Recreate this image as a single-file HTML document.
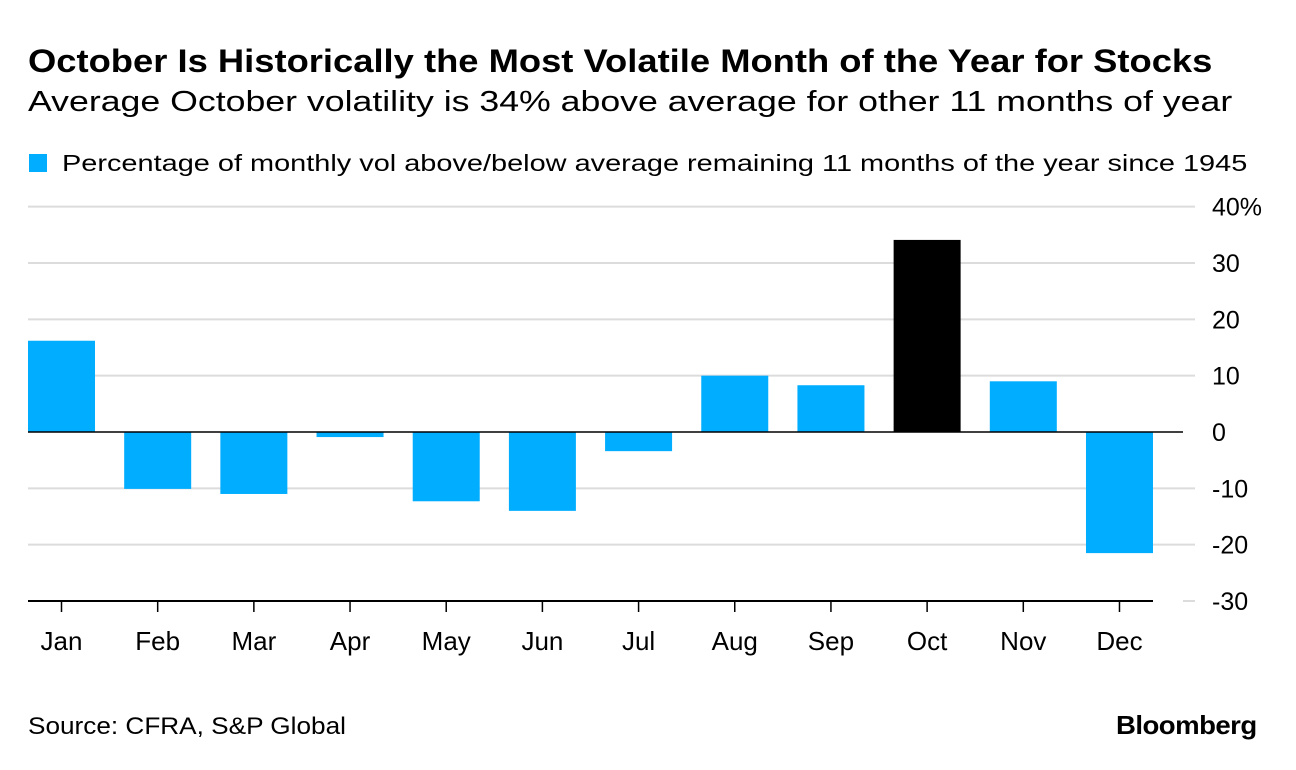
<!DOCTYPE html>
<html><head><meta charset="utf-8"><style>
body{margin:0;background:#fff;font-family:"Liberation Sans",sans-serif;}
#wrap{position:relative;width:1296px;height:770px;overflow:hidden;}
.t{position:absolute;white-space:nowrap;color:#000;transform-origin:0 0;}
</style></head><body>
<div id="wrap">
<div class="t" style="left:28px;top:43px;font-size:32px;font-weight:bold;transform:scaleX(1.136)">October Is Historically the Most Volatile Month of the Year for Stocks</div>
<div class="t" style="left:28px;top:86px;font-size:29px;transform:scaleX(1.23)">Average October volatility is 34% above average for other 11 months of year</div>
<div style="position:absolute;left:29px;top:154px;width:18px;height:18px;background:#00adff"></div>
<div class="t" style="left:62px;top:150px;font-size:23.5px;transform:scaleX(1.23)">Percentage of monthly vol above/below average remaining 11 months of the year since 1945</div>
<svg id="chart" width="1296" height="770" style="position:absolute;left:0;top:0"></svg>
<div class="t" style="left:28px;top:713px;font-size:24px;transform:scaleX(1.09)">Source: CFRA, S&amp;P Global</div>
<div class="t" style="left:1116px;top:710px;font-size:26px;font-weight:bold;letter-spacing:-0.5px;transform:scaleX(1.06)">Bloomberg</div>
</div>
<script>
const months=["Jan","Feb","Mar","Apr","May","Jun","Jul","Aug","Sep","Oct","Nov","Dec"];
const values=[16.2,-10.1,-11,-0.9,-12.3,-14,-3.4,10,8.3,34.1,9,-21.5];
const highlight=["Oct"];
const yTicks=[40,30,20,10,0,-10,-20,-30];
const yTickLabels=["40%","30","20","10","0","-10","-20","-30"];
const NS="http://www.w3.org/2000/svg";
const svg=document.getElementById("chart");
const y=v=>432-v*5.633;
const x0=28,step=96.18,bw=67;
const xc=i=>x0+bw/2+i*step;
function mk(tag,attrs){const e=document.createElementNS(NS,tag);for(const k in attrs)e.setAttribute(k,attrs[k]);svg.appendChild(e);return e;}
yTicks.forEach((t,i)=>{
  if(t!==0&&t!==-30){const g=mk("line",{x1:28,x2:1195,y1:y(t),y2:y(t),stroke:"#dcdcdc","stroke-width":2});
  
  }
  if(t===-30){const g=mk("line",{x1:1183,x2:1195,y1:y(t),y2:y(t),stroke:"#dcdcdc","stroke-width":2});
  
  }
  const l=mk("text",{x:1212,y:y(t)+9,"font-size":25,"font-family":"Liberation Sans, sans-serif",fill:"#000"});
  l.textContent=yTickLabels[i];
  
  
});
values.forEach((v,i)=>{
  const r=mk("rect",{x:xc(i)-bw/2,width:bw,y:Math.min(y(v),y(0)),height:Math.abs(y(v)-y(0)),fill:highlight.includes(months[i])?"#000":"#00adff"});
  
  
  const tk=mk("line",{x1:xc(i),x2:xc(i),y1:y(-30),y2:y(-30)+11,stroke:"#000","stroke-width":1.5});
  
  
  const l=mk("text",{x:xc(i),y:650,"font-size":26,"text-anchor":"middle","font-family":"Liberation Sans, sans-serif",fill:"#000"});
  l.textContent=months[i];
  
  
});
const z=mk("line",{x1:28,x2:1183,y1:y(0),y2:y(0),stroke:"#000","stroke-width":1.5});


const ax=mk("line",{x1:28,x2:1153,y1:y(-30),y2:y(-30),stroke:"#000","stroke-width":2});


</script>
</body></html>
